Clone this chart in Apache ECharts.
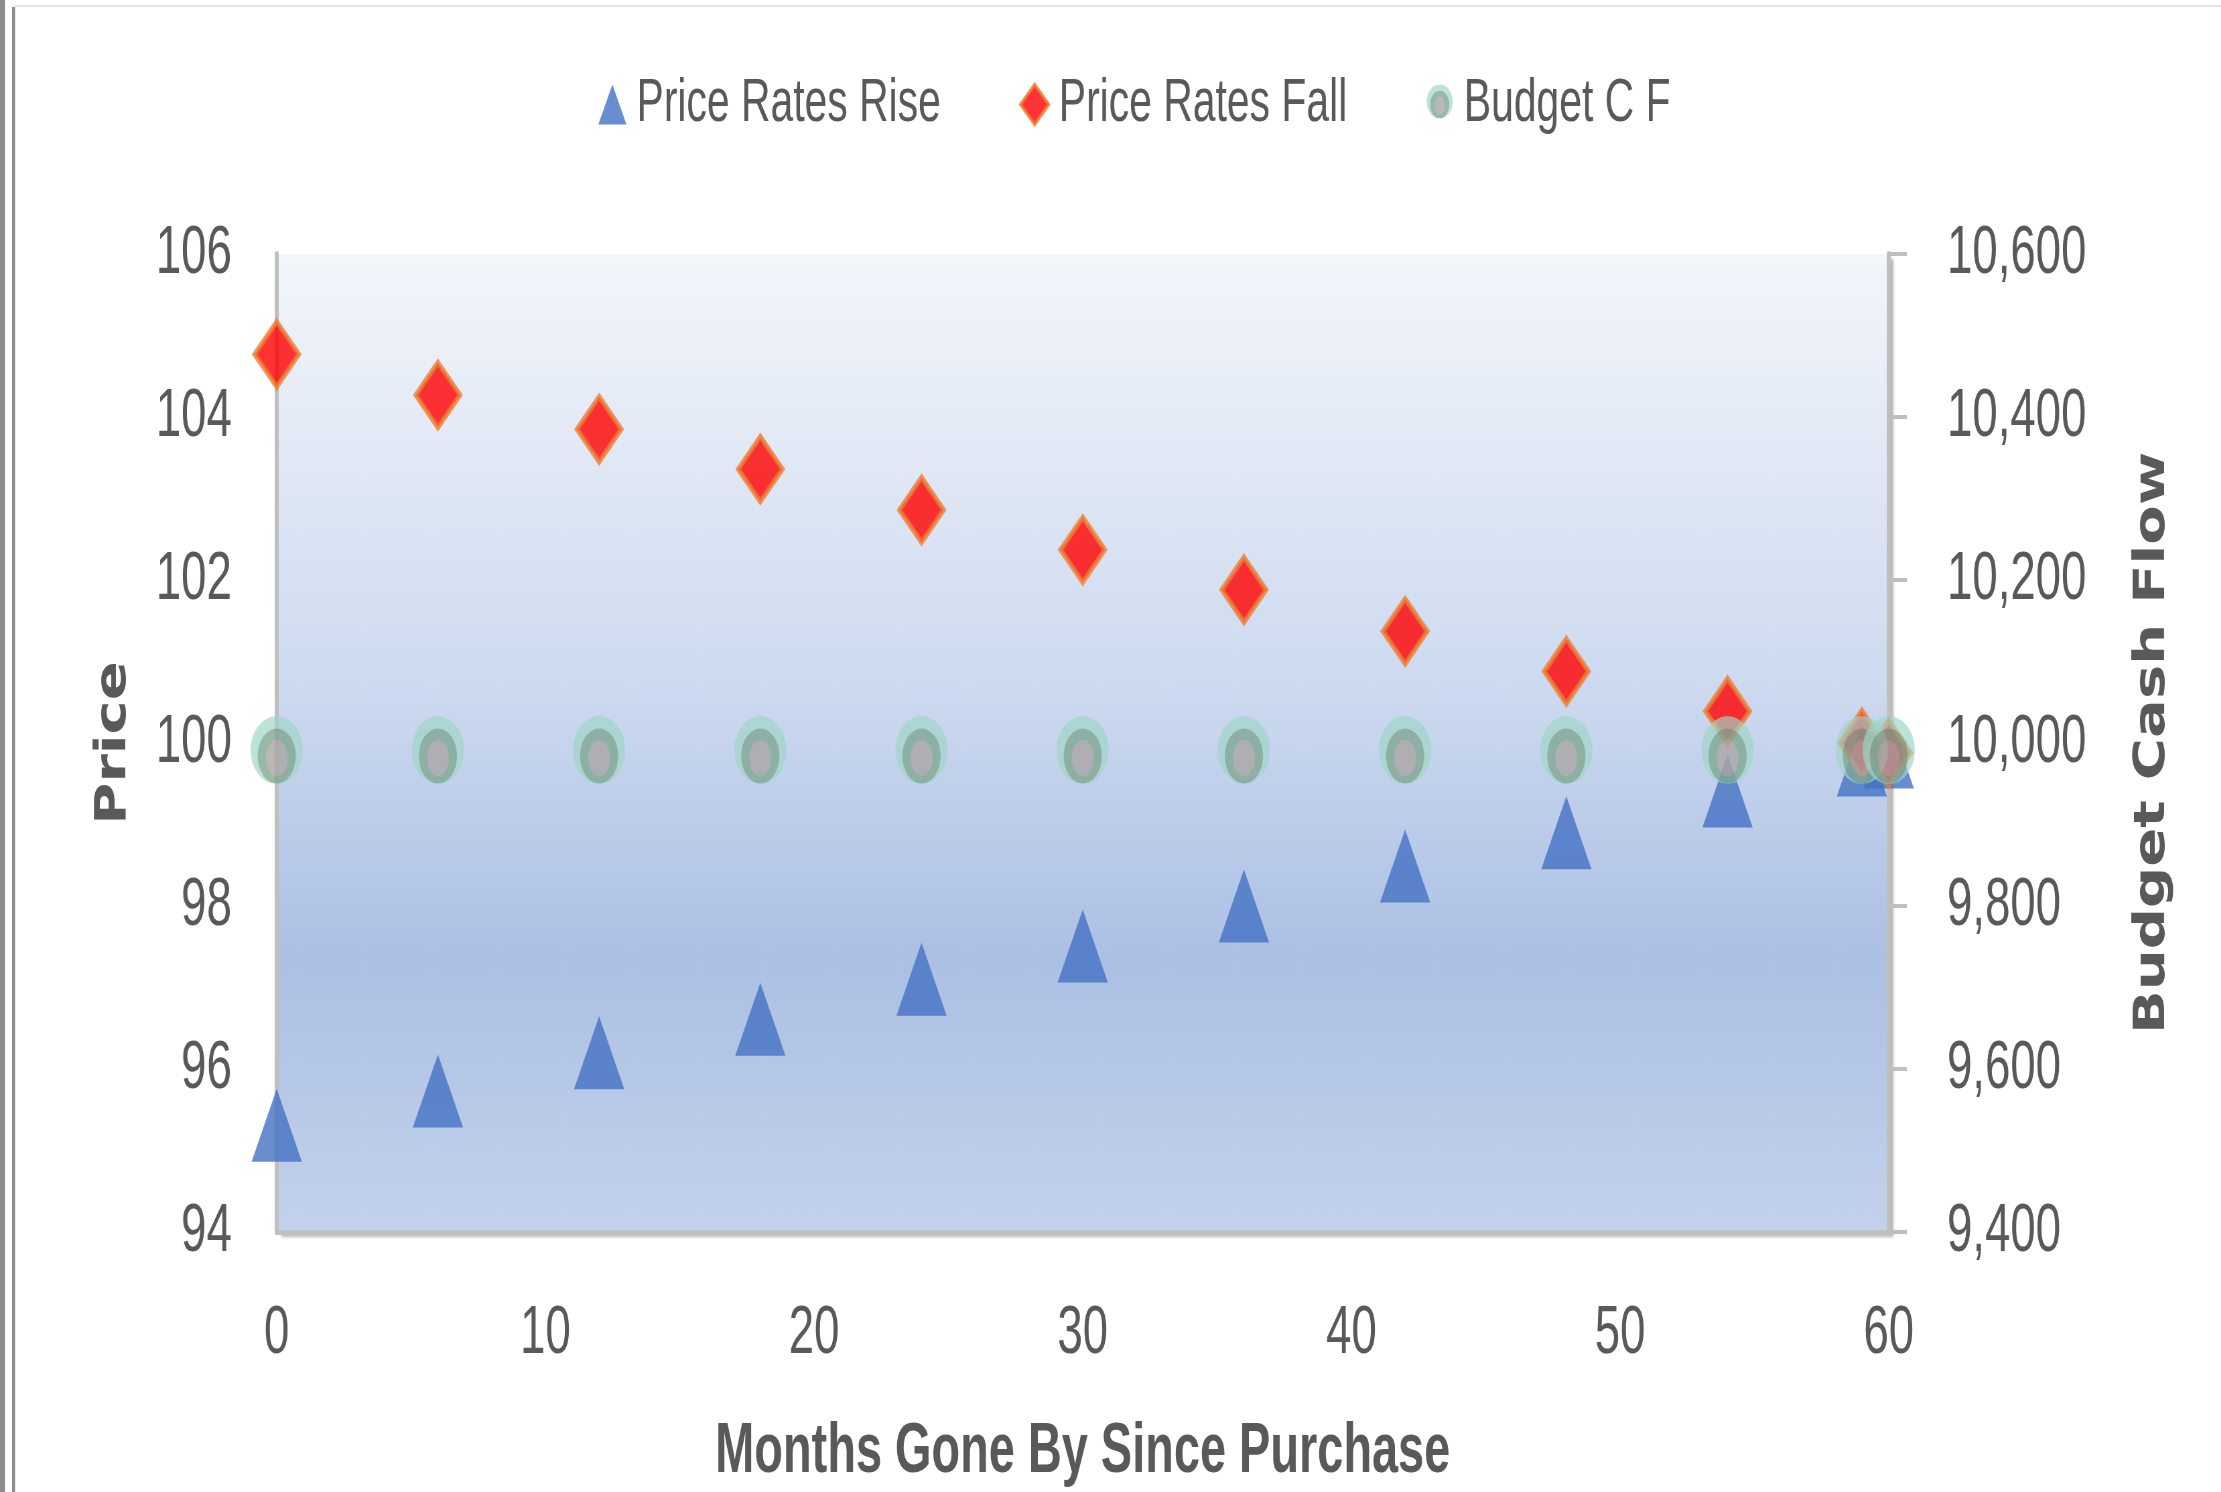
<!DOCTYPE html>
<html>
<head>
<meta charset="utf-8">
<script src="https://cdn.jsdelivr.net/npm/echarts@6/dist/echarts.min.js"></script>
<style>
html,body{margin:0;padding:0;background:#fff;overflow:hidden;width:2221px;height:1492px;}
#wrap{width:2221px;height:1492px;overflow:hidden;position:absolute;left:0;top:0;}
/* the reference chart is horizontally compressed; draw wider and compress the same way */
#chart{width:3315px;height:1492px;transform:scaleX(0.67);transform-origin:0 0;}
</style>
</head>
<body>
<div id="wrap"><div id="chart"></div></div>
<script>
// ---- data ----
const months = [0, 6, 12, 18, 24, 30, 36, 42, 48, 54, 59, 60];
const priceRatesRise = [95.31, 95.73, 96.20, 96.61, 97.10, 97.51, 98.00, 98.49, 98.90, 99.41, 99.79, 99.89];
const priceRatesFall = [104.77, 104.27, 103.85, 103.36, 102.86, 102.37, 101.88, 101.37, 100.88, 100.39, 100.00, 99.88];
const budgetCF = [9984, 9984, 9984, 9984, 9984, 9984, 9984, 9984, 9984, 9984, 9984, 9984];
const seriesNames = ['Price Rates Rise', 'Price Rates Fall', 'Budget C F'];
const xTitle = 'Months Gone By Since Purchase';
const yLeftTitle = 'Price';
const yRightTitle = 'Budget Cash Flow';

const sans = '"Liberation Sans", Arial, sans-serif';
const condBold = '"DejaVu Sans Condensed", "DejaVu Sans", sans-serif';
const txt = '#595959';
const axisGrey = '#BFBFBF';

// glow-ringed circle marker (light teal glow, grey-green ring, grey centre)
const budgetMarkerSvg =
  "<svg xmlns='http://www.w3.org/2000/svg' width='80' height='80' viewBox='0 0 80 80'>" +
  "<defs><clipPath id='c'><rect x='0' y='0' width='80' height='67.5'/></clipPath></defs>" +
  "<ellipse cx='40' cy='34' rx='39' ry='34' fill='#9DD6C7' fill-opacity='0.85' clip-path='url(#c)'/>" +
  "<ellipse cx='40' cy='40' rx='28.5' ry='27.5' fill='#80A892'/>" +
  "<ellipse cx='40' cy='42' rx='16.5' ry='18' fill='#A9A6A6'/>" +
  "</svg>";
const budgetSymbol = 'image://data:image/svg+xml;charset=utf-8,' + encodeURIComponent(budgetMarkerSvg);

function pairs(xs, ys) { return xs.map((x, i) => [x, ys[i]]); }

const chart = echarts.init(document.getElementById('chart'));
chart.setOption({
  backgroundColor: '#ffffff',
  animation: false,
  graphic: [
    { type: 'rect', shape: { x: 0, y: 0, width: 7.5, height: 1492 }, style: { fill: '#8c8c8c' }, silent: true },
    { type: 'rect', shape: { x: 18, y: 7, width: 4.5, height: 1485 }, style: { fill: '#8e8e8e' }, silent: true },
    { type: 'rect', shape: { x: 22, y: 5, width: 3300, height: 2 }, style: { fill: '#e2e2e2' }, silent: true }
  ],
  legend: {
    left: 888,
    top: 69,
    itemWidth: 42,
    itemHeight: 40,
    itemGap: 117,
    textStyle: { fontSize: 61, color: txt, fontFamily: sans, padding: [0, 0, 0, 10] },
    data: [
      { name: seriesNames[0] },
      { name: seriesNames[1], itemStyle: { borderWidth: 4 } },
      { name: seriesNames[2] }
    ]
  },
  grid: {
    left: 413, right: 496, top: 254, bottom: 260,
    outerBoundsMode: 'none',
    containLabel: false,
    show: true,
    borderWidth: 0,
    backgroundColor: {
      type: 'linear', x: 0, y: 0, x2: 0, y2: 1,
      colorStops: [
        { offset: 0, color: '#F3F6FB' },
        { offset: 0.45, color: '#CCD9EF' },
        { offset: 0.72, color: '#ACC0E4' },
        { offset: 1, color: '#C3D2EB' }
      ]
    },
    shadowColor: 'rgba(0,0,0,0.28)',
    shadowBlur: 3,
    shadowOffsetX: 7,
    shadowOffsetY: 5
  },
  xAxis: {
    type: 'value',
    min: 0, max: 60, interval: 10,
    name: xTitle,
    nameLocation: 'middle',
    nameGap: 186,
    nameMoveOverlap: false,
    nameTextStyle: { fontSize: 70, fontWeight: 'bold', color: txt, fontFamily: sans },
    axisLine: { show: true, lineStyle: { color: axisGrey, width: 5 } },
    axisTick: { show: false },
    splitLine: { show: false },
    axisLabel: { fontSize: 68, color: txt, fontFamily: sans, margin: 68 }
  },
  yAxis: [
    {
      type: 'value',
      min: 94, max: 106, interval: 2,
      name: yLeftTitle,
      nameLocation: 'middle',
      nameRotate: 90,
      nameGap: 211,
      nameMoveOverlap: false,
      nameTextStyle: { fontSize: 64, fontWeight: 'bold', color: txt, fontFamily: condBold },
      axisLine: { show: true, lineStyle: { color: axisGrey, width: 6 } },
      axisTick: { show: false },
      splitLine: { show: false },
      axisLabel: { fontSize: 68, color: txt, fontFamily: sans, margin: 67, padding: [6, 0, 0, 0] }
    },
    {
      type: 'value',
      position: 'right',
      min: 9400, max: 10600, interval: 200,
      name: yRightTitle,
      nameLocation: 'middle',
      nameRotate: 90,
      nameGap: 362,
      nameMoveOverlap: false,
      nameTextStyle: { fontSize: 64, fontWeight: 'bold', color: txt, fontFamily: condBold },
      axisLine: { show: true, lineStyle: { color: axisGrey, width: 6 } },
      axisTick: { show: true, length: 27, lineStyle: { color: axisGrey, width: 4 } },
      splitLine: { show: false },
      axisLabel: {
        fontSize: 68, color: txt, fontFamily: sans, margin: 87, padding: [6, 0, 0, 0],
        formatter: v => v.toLocaleString('en-US')
      }
    }
  ],
  series: [
    {
      name: seriesNames[0],
      type: 'scatter',
      yAxisIndex: 0,
      symbol: 'triangle',
      symbolSize: [75, 73],
      itemStyle: { color: '#4472C4' },
      z: 3,
      data: pairs(months, priceRatesRise)
    },
    {
      name: seriesNames[1],
      type: 'scatter',
      yAxisIndex: 0,
      symbol: 'diamond',
      symbolSize: [66, 65],
      itemStyle: { color: '#FF0000', borderColor: '#ED7D31', borderWidth: 6 },
      z: 4,
      data: pairs(months, priceRatesFall)
    },
    {
      name: seriesNames[2],
      type: 'scatter',
      yAxisIndex: 1,
      symbol: budgetSymbol,
      symbolSize: [80, 80],
      itemStyle: { color: '#A5A5A5' },
      z: 5,
      data: pairs(months, budgetCF)
    }
  ]
});
</script>
</body>
</html>
